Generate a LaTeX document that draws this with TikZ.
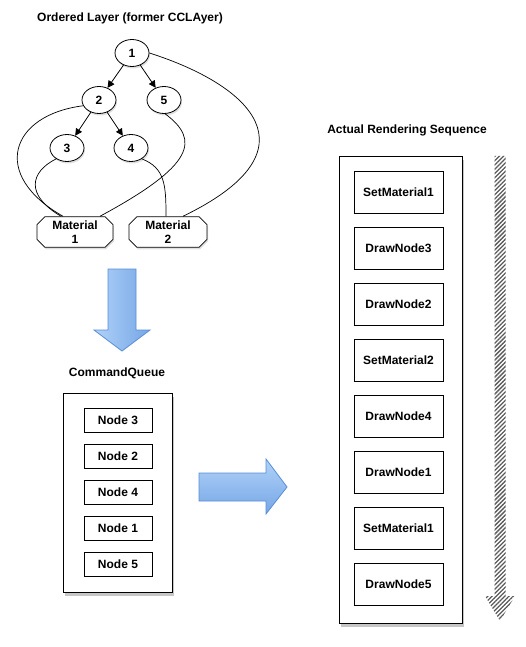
\documentclass[tikz,border=0pt]{standalone}
\usepackage{fontspec}
\setmainfont{Liberation Sans}
\usetikzlibrary{shapes.geometric,shapes.misc,shadows,patterns.meta,arrows.meta}

\definecolor{ArrowLight}{RGB}{176,210,248}
\definecolor{ArrowDark}{RGB}{118,166,230}
\definecolor{ArrowEdge}{RGB}{88,142,214}

\tikzset{
  layer/.style={ellipse, draw, fill=white, minimum width=34pt, minimum height=27pt,
    inner sep=0pt, drop shadow={shadow xshift=1pt, shadow yshift=-2pt, opacity=0.25}},
  material/.style={chamfered rectangle, chamfered rectangle xsep=4pt,
    chamfered rectangle ysep=4pt, draw, fill=white, minimum width=76pt,
    minimum height=30pt, inner sep=0pt, align=center,
    drop shadow={shadow xshift=1pt, shadow yshift=-2pt, opacity=0.25}},
  panel/.style={draw, fill=white, inner sep=0pt,
    drop shadow={shadow xshift=2pt, shadow yshift=-4pt, opacity=0.45}},
  cmd/.style={draw, minimum width=68pt, minimum height=24pt, inner sep=0pt},
  render/.style={draw, minimum width=89pt, minimum height=42pt, inner sep=0pt},
  tree/.style={-{Triangle[length=7pt,width=7pt]}},
  link/.style={line width=0.7pt},
}

\begin{document}
\begin{tikzpicture}[x=1pt, y=-1pt, line width=0.8pt,
    every node/.style={font=\bfseries\fontsize{12}{14}\selectfont}]
  \useasboundingbox (0,0) rectangle (525,647);

  % ordered layer
  \node (title) at (130,18) {Ordered Layer (former CCLAyer)};
  \node[layer] (n1) at (132,53) {1};
  \node[layer] (n2) at (99,100) {2};
  \node[layer] (n5) at (164,100) {5};
  \node[layer] (n3) at (67,148) {3};
  \node[layer] (n4) at (131,148) {4};
  \node[material] (m1) at (75,232) {Material\\1};
  \node[material, minimum width=78pt] (m2) at (168,232) {Material\\2};

  \draw[tree] (n1) -- (n2);
  \draw[tree] (n1) -- (n5);
  \draw[tree] (n2) -- (n3);
  \draw[tree] (n2) -- (n4);

  \draw[link] (n2.200) .. controls (10,115) and (-10,175) .. ([xshift=-12pt]m1.north);
  \draw[link] (n3.225) .. controls (30,172) and (25,195) .. ([xshift=-14pt]m1.north);
  \draw[link] (n5.275) .. controls (200,140) and (195,165) .. ([xshift=25pt]m1.north);
  \draw[link] (n4.315) .. controls (165,168) and (166,185) .. ([xshift=-2pt]m2.north);
  \draw[link] (n1.east) .. controls (250,85) and (320,150) .. ([xshift=15pt]m2.north);

  % arrow down
  \shade[left color=ArrowLight, right color=ArrowDark, draw=ArrowEdge]
    (108,269) -- (136,269) -- (136,330) -- (150,330) -- (122,351)
    -- (94,330) -- (108,330) -- cycle;

  % command queue
  \node (qtitle) at (117,373) {CommandQueue};
  \node[panel, minimum width=109pt, minimum height=199pt] (queue) at (117.5,492.5) {};
  \node[cmd] (q1) at (118,420) {Node 3};
  \node[cmd] (q2) at (118,456) {Node 2};
  \node[cmd] (q3) at (118,492) {Node 4};
  \node[cmd] (q4) at (118,528) {Node 1};
  \node[cmd] (q5) at (118,564) {Node 5};

  % arrow right
  \shade[top color=ArrowLight, bottom color=ArrowDark, draw=ArrowEdge]
    (199,473) -- (266,473) -- (266,459) -- (287,487) -- (266,514)
    -- (266,501) -- (199,501) -- cycle;

  % rendering sequence
  \node (rtitle) at (407,130) {Actual Rendering Sequence};
  \node[panel, minimum width=123pt, minimum height=467pt] (seq) at (400.5,389.5) {};
  \node[render] (r1) at (398.5,192) {SetMaterial1};
  \node[render] (r2) at (398.5,248) {DrawNode3};
  \node[render] (r3) at (398.5,304) {DrawNode2};
  \node[render] (r4) at (398.5,360) {SetMaterial2};
  \node[render] (r5) at (398.5,416) {DrawNode4};
  \node[render] (r6) at (398.5,472) {DrawNode1};
  \node[render] (r7) at (398.5,528) {SetMaterial1};
  \node[render] (r8) at (398.5,584) {DrawNode5};

  % time arrow
  \path[pattern={Lines[angle=45, distance=3pt, line width=1.3pt]}, pattern color=black!65]
    (494.5,156) -- (505.5,156) -- (505.5,596) -- (515,596) -- (500,621)
    -- (485,596) -- (494.5,596) -- cycle;
\end{tikzpicture}
\end{document}
